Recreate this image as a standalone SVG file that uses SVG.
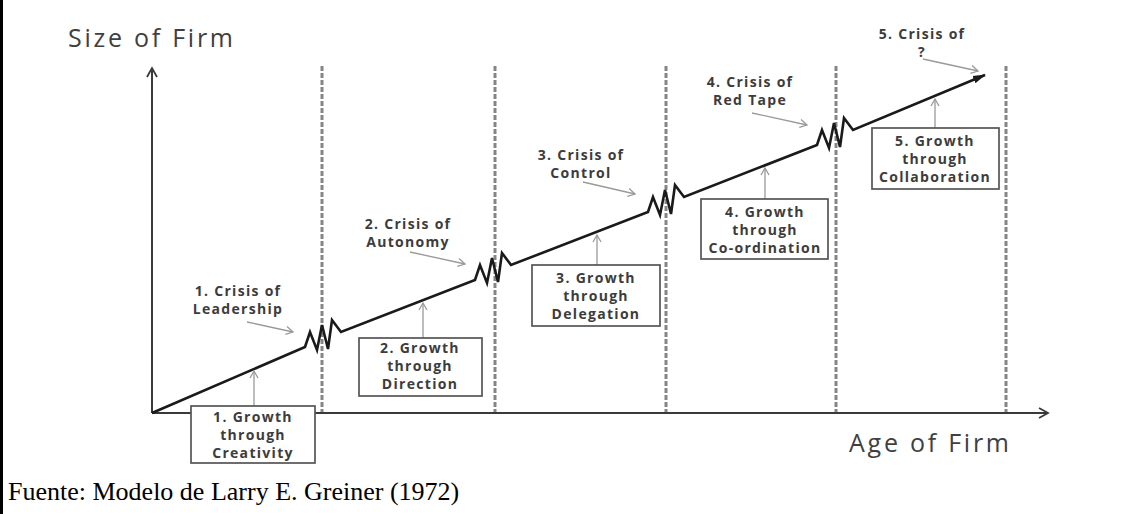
<svg xmlns="http://www.w3.org/2000/svg" width="1127" height="514" viewBox="0 0 1127 514">
<style>
.dash{stroke:#858585;stroke-width:3;stroke-dasharray:5,2;fill:none}
.axis{stroke:#3a3a3a;stroke-width:2;fill:none}
.curve{stroke:#1a1a1a;stroke-width:2.6;fill:none;stroke-linejoin:miter}
.ptr{stroke:#9a9a9a;stroke-width:1.3;fill:none}
.box{fill:#fff;stroke:#555;stroke-width:1.7}
.lbl{font-family:"Open Sans",sans-serif;font-weight:700;font-size:14px;fill:#3c3c3c;text-anchor:middle;letter-spacing:1.3px}
.ax{font-family:"Open Sans",sans-serif;font-size:25px;fill:#404040}
.cap{font-family:"Liberation Serif",serif;font-size:26px;fill:#000}
</style>
<defs>
<marker id="ah" markerWidth="10" markerHeight="10" refX="8" refY="5" orient="auto" markerUnits="userSpaceOnUse"><path d="M1,1 L8,5 L1,9" fill="none" stroke="#9a9a9a" stroke-width="1.3"/></marker>
<marker id="ahk" markerWidth="12" markerHeight="12" refX="10" refY="6" orient="auto" markerUnits="userSpaceOnUse"><path d="M1,1 L10,6 L1,11" fill="none" stroke="#3a3a3a" stroke-width="1.8"/></marker>
<marker id="ahc" markerWidth="14" markerHeight="10" refX="12" refY="5" orient="auto" markerUnits="userSpaceOnUse"><path d="M0,1 L13,5 L0,9 Z" fill="#1a1a1a"/></marker>
</defs>
<rect width="1127" height="514" fill="#fff"/>
<line x1="1.5" y1="0" x2="1.5" y2="514" stroke="#000" stroke-width="3"/>

<g id="dividers">
<line class="dash" x1="322" y1="66" x2="322" y2="413"/>
<line class="dash" x1="495" y1="66" x2="495" y2="413"/>
<line class="dash" x1="666" y1="66" x2="666" y2="413"/>
<line class="dash" x1="836" y1="66" x2="836" y2="413"/>
<line class="dash" x1="1006" y1="66" x2="1006" y2="413"/>
</g>

<g id="axes">
<line class="axis" x1="152" y1="413" x2="152" y2="68" marker-end="url(#ahk)"/>
<line class="axis" x1="152" y1="413" x2="1048" y2="413" marker-end="url(#ahk)"/>
<text class="ax" x="68" y="47" textLength="165" lengthAdjust="spacing">Size of Firm</text>
<text class="ax" x="849" y="452" textLength="160" lengthAdjust="spacing">Age of Firm</text>
</g>

<g id="connectors">
<path class="curve" marker-end="url(#ahc)" d="M152,413 L305,347 L310,332 L317,350 L322,325 L328,349 L332,320 L341,332 L475,280 L480,265 L487,283 L492,258 L498,282 L502,253 L511,265 L648,212 L653,197 L660,215 L665,190 L671,214 L675,185 L684,197 L817,145 L822,130 L829,148 L834,123 L840,147 L844,118 L853,130 L985,75"/>
<line class="ptr" x1="254" y1="406" x2="254" y2="371" marker-end="url(#ah)"/>
<line class="ptr" x1="423" y1="338" x2="423" y2="303" marker-end="url(#ah)"/>
<line class="ptr" x1="597" y1="265" x2="597" y2="235" marker-end="url(#ah)"/>
<line class="ptr" x1="765" y1="199" x2="765" y2="168" marker-end="url(#ah)"/>
<line class="ptr" x1="935" y1="128" x2="935" y2="99" marker-end="url(#ah)"/>
<line class="ptr" x1="247" y1="322" x2="293" y2="332" marker-end="url(#ah)"/>
<line class="ptr" x1="410" y1="252" x2="465" y2="264" marker-end="url(#ah)"/>
<line class="ptr" x1="583" y1="182" x2="635" y2="194" marker-end="url(#ah)"/>
<line class="ptr" x1="752" y1="113" x2="807" y2="125" marker-end="url(#ah)"/>
<line class="ptr" x1="923" y1="59" x2="978" y2="71" marker-end="url(#ah)"/>
</g>

<g id="growth1"><rect class="box" x="191" y="406" width="124" height="57"/>
<text class="lbl" x="253" y="422">1. Growth</text><text class="lbl" x="253" y="440">through</text><text class="lbl" x="253" y="458">Creativity</text></g>
<g id="growth2"><rect class="box" x="359" y="338" width="123" height="58"/>
<text class="lbl" x="420" y="353">2. Growth</text><text class="lbl" x="420" y="371">through</text><text class="lbl" x="420" y="389">Direction</text></g>
<g id="growth3"><rect class="box" x="532" y="265" width="128" height="61"/>
<text class="lbl" x="596" y="283">3. Growth</text><text class="lbl" x="596" y="301">through</text><text class="lbl" x="596" y="319">Delegation</text></g>
<g id="growth4"><rect class="box" x="701" y="199" width="127" height="60"/>
<text class="lbl" x="765" y="217">4. Growth</text><text class="lbl" x="765" y="235">through</text><text class="lbl" x="765" y="253">Co-ordination</text></g>
<g id="growth5"><rect class="box" x="872" y="128" width="127" height="61"/>
<text class="lbl" x="935" y="146">5. Growth</text><text class="lbl" x="935" y="164">through</text><text class="lbl" x="935" y="182">Collaboration</text></g>

<g id="crisis1"><text class="lbl" x="238" y="296">1. Crisis of</text><text class="lbl" x="238" y="314">Leadership</text></g>
<g id="crisis2"><text class="lbl" x="408" y="229">2. Crisis of</text><text class="lbl" x="408" y="247">Autonomy</text></g>
<g id="crisis3"><text class="lbl" x="581" y="160">3. Crisis of</text><text class="lbl" x="581" y="178">Control</text></g>
<g id="crisis4"><text class="lbl" x="750" y="87">4. Crisis of</text><text class="lbl" x="750" y="105">Red Tape</text></g>
<g id="crisis5"><text class="lbl" x="922" y="39">5. Crisis of</text><text class="lbl" x="922" y="57">?</text></g>

<text class="cap" x="8" y="500">Fuente: Modelo de Larry E. Greiner (1972)</text>
</svg>
